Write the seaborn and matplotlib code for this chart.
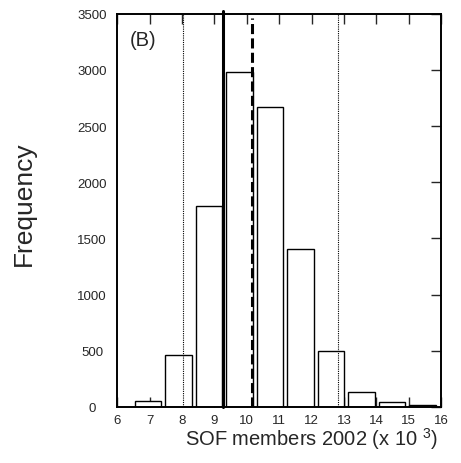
import pandas as pd
import seaborn as sns
import matplotlib.pyplot as plt

# histogram data (bin centres in thousands, counts)
centers = [6.96, 7.90, 8.84, 9.78, 10.72, 11.66, 12.60, 13.54, 14.48, 15.42]
counts = [50, 460, 1790, 2985, 2670, 1410, 500, 135, 40, 15]
ref_solid = 9.27
ref_dashed = 10.17
ref_dotted = [8.02, 12.82]
panel_label = "(B)"

sns.set_style("white")
plt.rcParams["font.family"] = ["Liberation Sans", "DejaVu Sans"]
plt.rcParams["mathtext.fontset"] = "custom"
plt.rcParams["mathtext.rm"] = "Liberation Sans"

fig = plt.figure(figsize=(4.61, 4.64), dpi=100)
ax = fig.add_axes([0.254, 0.121, 0.703, 0.847])

df = pd.DataFrame({"members": centers, "count": counts})
binw = centers[1] - centers[0]
edges = [c - binw / 2 for c in centers] + [centers[-1] + binw / 2]
sns.histplot(data=df, x="members", weights="count", bins=edges, shrink=0.87,
             color="white", edgecolor="black", linewidth=1.0, alpha=1,
             ax=ax)

for v in ref_dotted:
    ax.axvline(v, color="black", lw=0.8, ls=(0, (1, 1)), zorder=3)
ax.plot([ref_solid, ref_solid], [0, 3525], color="black", lw=2.2,
        clip_on=False, zorder=4)
ax.plot([ref_dashed, ref_dashed], [0, 3460], color="black", lw=2.2,
        ls=(0, (3.3, 1.4)), zorder=4)

ax.set_xlim(6, 16)
ax.set_ylim(0, 3500)
ax.set_xticks(range(6, 17))
ax.set_yticks(range(0, 3501, 500))
ax.set_axisbelow(True)
ax.tick_params(axis="x", direction="in", top=True, bottom=True, length=7,
               width=1, labelsize=9.5, pad=5)
ax.tick_params(axis="y", direction="in", left=False, right=True, length=7,
               width=1, labelsize=9.5, pad=18)
for lab in ax.get_yticklabels():
    lab.set_horizontalalignment("center")
for s in ax.spines.values():
    s.set_linewidth(1.4)
    s.set_color("black")

ax.text(6.4, 3360, panel_label, fontsize=14.5, va="top")
ax.set_xlabel("SOF members 2002 (x 10 $^{3}$)", fontsize=14.5)
ax.xaxis.set_label_coords(0.6, -0.047)
ax.set_ylabel("Frequency", fontsize=19)
ax.yaxis.set_label_coords(-0.25, 0.52)

fig.savefig("out.png", dpi=100)
